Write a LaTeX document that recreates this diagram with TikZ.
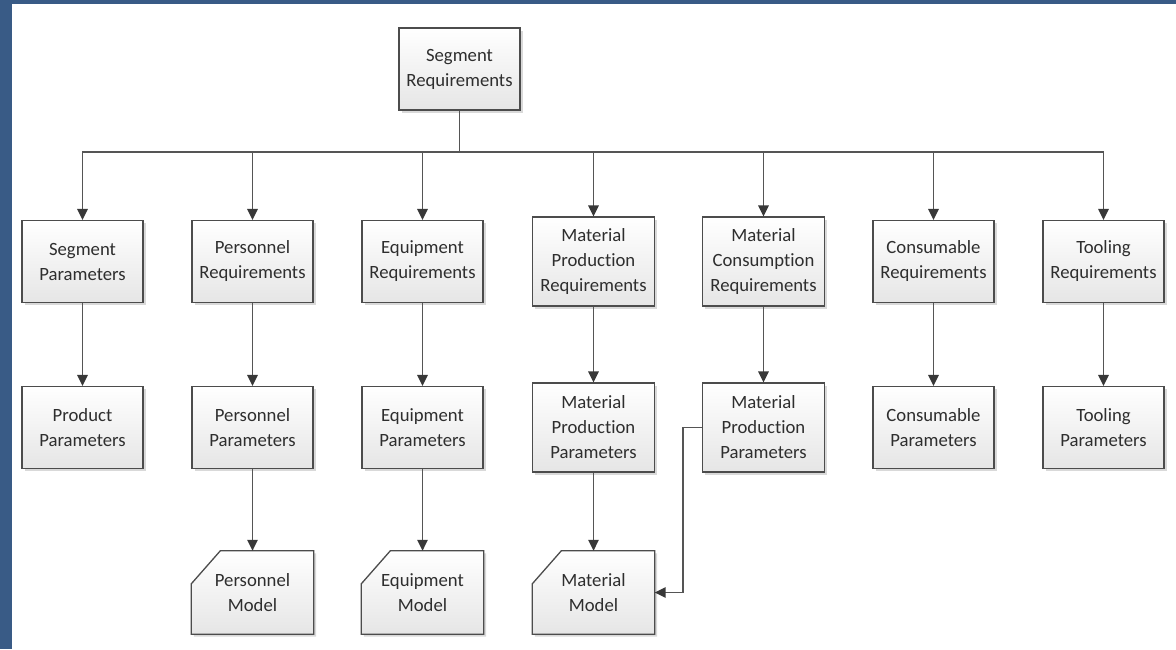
\documentclass[tikz,border=0pt]{standalone}
\usepackage{fontspec}
\setmainfont{Carlito}[Ligatures={NoCommon}]
\usetikzlibrary{arrows.meta,shadows}
\definecolor{bgblue}{HTML}{395B86}
\definecolor{linegray}{HTML}{555555}
\definecolor{tipgray}{HTML}{383838}
\definecolor{boxborder}{HTML}{4C4C4C}
\definecolor{txt}{HTML}{2E2E2E}
\pgfdeclarelayer{bg}
\pgfdeclarelayer{background}
\pgfsetlayers{bg,background,main}
\tikzset{
  boxfont/.style={font=\fontsize{18.7}{25}\selectfont, text=txt},
  shapelook/.style={draw=boxborder, line width=1.3pt, top color=white, bottom color=black!10,
    drop shadow={shadow xshift=2.5pt, shadow yshift=-2.5pt, fill=black, opacity=0.15}},
  box/.style={shapelook, boxfont, minimum width=121pt, minimum height=82pt, inner sep=0pt, align=center},
  tallbox/.style={box, minimum width=122pt, minimum height=89pt},
  modelbox/.style={boxfont, minimum width=122pt, minimum height=83pt, inner sep=0pt, align=center},
  conn/.style={draw=linegray, line width=1.5pt},
  arr/.style={conn, -{Triangle[length=11pt,width=10.5pt,color=tipgray]}},
}
\newcommand{\modelshape}[1]{%
  \begin{pgfonlayer}{background}
  \path[shapelook] (#1.north west) ++(0,-33) -- ++(29,33) -- (#1.north east) -- (#1.south east) -- (#1.south west) -- cycle;
  \end{pgfonlayer}}
\begin{document}
\begin{tikzpicture}[x=1pt,y=1pt]
\begin{pgfonlayer}{bg}
  \fill[bgblue] (0,0) rectangle (1176,-649);
  \fill[white] (12,-4) rectangle (1176,-649);
\end{pgfonlayer}
\useasboundingbox (0,0) rectangle (1176,-649);

% top
\node[box] (top) at (459.5,-69) {Segment\\Requirements};
\coordinate (bus) at (459.5,-152);

% row 1
\node[box] (sp)   at (82.5,-261.5)  {Segment\\Parameters};
\node[box] (perr) at (252.5,-261.5) {Personnel\\Requirements};
\node[box] (eqr)  at (422.5,-261.5) {Equipment\\Requirements};
\node[tallbox] (mpr) at (593.5,-261.5) {Material\\Production\\Requirements};
\node[tallbox] (mcr) at (763.5,-261.5) {Material\\Consumption\\Requirements};
\node[box] (cr)   at (933.5,-261.5) {Consumable\\Requirements};
\node[box] (tr)   at (1103.5,-261.5) {Tooling\\Requirements};

% row 2
\node[box] (pp)   at (82.5,-427.5)  {Product\\Parameters};
\node[box] (perp) at (252.5,-427.5) {Personnel\\Parameters};
\node[box] (eqp)  at (422.5,-427.5) {Equipment\\Parameters};
\node[tallbox] (mpp)  at (593.5,-427.5) {Material\\Production\\Parameters};
\node[tallbox] (mcpp) at (763.5,-427.5) {Material\\Production\\Parameters};
\node[box] (cp)   at (933.5,-427.5) {Consumable\\Parameters};
\node[box] (tp)   at (1103.5,-427.5) {Tooling\\Parameters};

% row 3
\node[modelbox] (persm) at (252.5,-592.5) {Personnel\\Model};
\node[modelbox] (eqm)   at (422.5,-592.5) {Equipment\\Model};
\node[modelbox] (mm)    at (593.5,-592.5) {Material\\Model};
\modelshape{persm}
\modelshape{eqm}
\modelshape{mm}

% connectors
\draw[conn] (top) -- (bus);
\foreach \n in {sp,perr,eqr,mpr,mcr,cr,tr}
  \draw[arr] (bus) -| (\n);
\draw[arr] (sp) -- (pp);
\draw[arr] (perr) -- (perp);
\draw[arr] (eqr) -- (eqp);
\draw[arr] (mpr) -- (mpp);
\draw[arr] (mcr) -- (mcpp);
\draw[arr] (cr) -- (cp);
\draw[arr] (tr) -- (tp);
\draw[arr] (perp) -- (persm);
\draw[arr] (eqp) -- (eqm);
\draw[arr] (mpp) -- (mm);
\draw[arr] (mcpp.west) -- ++(-19,0) |- (mm.east);
\end{tikzpicture}
\end{document}
